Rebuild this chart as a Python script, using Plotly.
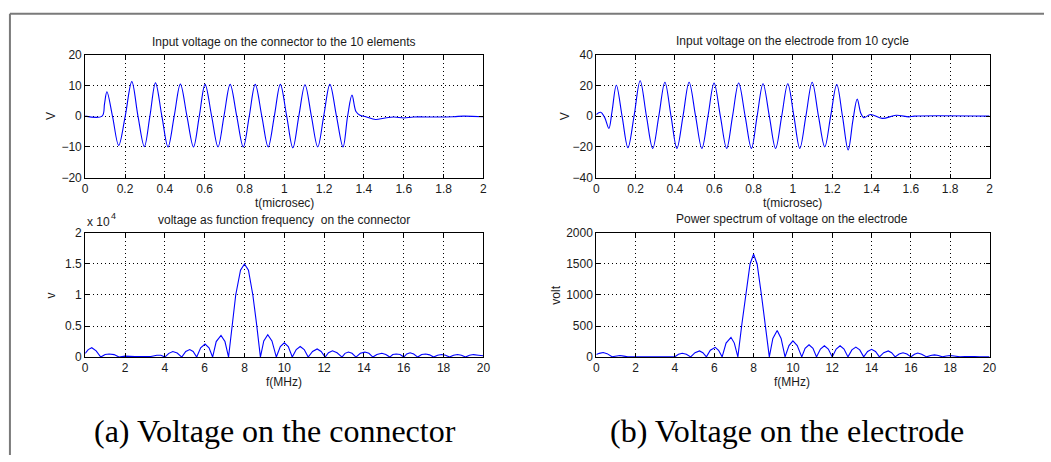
import plotly.graph_objects as go

# ---------------- data ----------------
# (a) time signal on the connector
conn_t = [0, 0.085, 0.097, 0.109, 0.137, 0.168, 0.201, 0.234, 0.265, 0.297, 0.325, 0.353,
          0.385, 0.416, 0.447, 0.478, 0.511, 0.544, 0.573, 0.602, 0.635, 0.667, 0.697, 0.728,
          0.761, 0.794, 0.824, 0.854, 0.887, 0.919, 0.95, 0.980, 1.012, 1.043, 1.073, 1.104,
          1.136, 1.168, 1.198, 1.229, 1.262, 1.295, 1.318, 1.34, 1.36, 1.38, 1.41, 1.458,
          1.5, 1.55, 1.6, 1.65, 1.75, 1.85, 1.9, 2.0]
conn_v = [0, 0, 4, 7.9, 0, -9.5, 0, 11.2, 0, -9.9, 0, 10.8,
          0, -10, 0, 10.4, 0, -10, 0, 10.3, 0, -10, 0, 10.3,
          0, -10, 0, 10.3, 0, -10, 0, 10.3, 0, -10.3, 0, 10.2,
          0, -10, 0, 10.3, 0, -10, 0, 6.8, 1.5, 0.3, -0.2, -1.1,
          -0.7, -0.3, -0.6, -0.3, -0.3, -0.2, 0, -0.2]

# (b) time signal on the electrode
elec_t = [0, 0.022, 0.043, 0.064, 0.08, 0.102, 0.131, 0.161, 0.192, 0.223, 0.255, 0.287,
          0.318, 0.349, 0.38, 0.41, 0.441, 0.472, 0.505, 0.537, 0.568, 0.599, 0.631, 0.663,
          0.693, 0.724, 0.757, 0.789, 0.818, 0.848, 0.88, 0.912, 0.943, 0.974, 1.005, 1.035,
          1.066, 1.098, 1.13, 1.162, 1.192, 1.223, 1.252, 1.281, 1.305, 1.327, 1.345, 1.36,
          1.395, 1.454, 1.525, 1.59, 1.617, 2.0]
elec_v = [1, 2.5, -1, -8, 3, 20, 0, -20.5, 0, 23, 0, -21,
          0, 22, 0, -21, 0, 22, 0, -21, 0, 21.5, 0, -21,
          0, 21.5, 0, -21, 0, 21, 0, -21, 0, 21, 0, -21,
          0, 22, 0, -20, 0, 20.5, 0, -22, -3, 11, 2, -1,
          1, -1.5, 0.5, -0.5, 0, 0]

# (a) spectrum on the connector (units of 1e4)
conn_f = [0, 0.15, 0.33, 0.55, 0.78, 1.0, 1.2, 1.45, 1.7, 2.0, 2.5, 2.9, 3.3, 3.6, 3.8, 4.0,
          4.2, 4.4, 4.62, 4.85, 5.05, 5.25, 5.42, 5.6, 5.8, 6.02, 6.22, 6.4, 6.58, 6.82, 7.02,
          7.2, 7.4, 7.56, 7.8, 8.0, 8.2, 8.42, 8.6, 8.8, 8.97, 9.17, 9.38, 9.6, 9.8, 10.0,
          10.2, 10.4, 10.6, 10.8, 11.0, 11.2, 11.42, 11.65, 11.85, 12.05, 12.22, 12.42, 12.65,
          12.9, 13.05, 13.22, 13.4, 13.6, 13.82, 14.05, 14.25, 14.45, 14.65, 14.9, 15.1, 15.3,
          15.45, 15.62, 15.82, 16.0, 16.15, 16.32, 16.5, 16.7, 16.9, 17.1, 17.3, 17.5, 17.7,
          17.9, 18.1, 18.3, 18.5, 18.7, 18.9, 19.1, 19.3, 19.5, 19.75, 20.0]
conn_s = [0.06, 0.12, 0.15, 0.10, 0, 0.04, 0.05, 0.04, 0, 0.015, 0.01, 0.015, 0.01, 0.03, 0.03, 0,
          0.06, 0.09, 0.065, 0, 0.09, 0.12, 0.09, 0, 0.15, 0.21, 0.15, 0, 0.25, 0.35, 0.25,
          0, 0.55, 1.0, 1.40, 1.50, 1.40, 1.0, 0.55, 0, 0.26, 0.36, 0.26, 0, 0.17, 0.23,
          0.17, 0, 0.12, 0.17, 0.12, 0, 0.09, 0.13, 0.09, 0, 0.07, 0.10, 0.07,
          0, 0.06, 0.08, 0.06, 0, 0.06, 0.08, 0.06, 0, 0.04, 0.06, 0.04, 0,
          0.04, 0.05, 0.04, 0, 0.05, 0.07, 0.05, 0, 0.04, 0.05, 0.035, 0, 0.03,
          0.04, 0.03, 0, 0.03, 0.04, 0.03, 0, 0.03, 0.04, 0.03, 0.02]

# (b) power spectrum on the electrode
elec_f = [0, 0.15, 0.35, 0.55, 0.8, 1.0, 1.2, 1.4, 1.6, 2.0, 3.0, 3.5, 4.0,
          4.18, 4.37, 4.58, 4.8, 5.02, 5.25, 5.42, 5.6, 5.8, 6.05, 6.22, 6.4, 6.6, 6.85, 7.02,
          7.2, 7.4, 7.6, 7.82, 8.0, 8.18, 8.4, 8.6, 8.8, 8.98, 9.2, 9.4, 9.6, 9.8, 10.0,
          10.22, 10.45, 10.62, 10.82, 11.02, 11.2, 11.4, 11.6, 11.8, 12.0, 12.2, 12.4, 12.6,
          12.8, 13.0, 13.2, 13.4, 13.6, 13.8, 14.0, 14.2, 14.4, 14.62, 14.85, 15.02, 15.2,
          15.4, 15.6, 15.8, 16.0, 16.18, 16.35, 16.55, 16.8, 17.0, 17.2, 17.4, 17.6, 17.8,
          18.0, 18.2, 18.5, 18.75, 19.0, 19.25, 19.5, 20.0]
elec_s = [40, 60, 73, 55, 5, 20, 25, 15, 3, 5, 5, 8, 5,
          45, 62, 45, 3, 70, 99, 70, 3, 110, 156, 110, 3, 225, 318, 225,
          3, 520, 1000, 1500, 1656, 1500, 1000, 520, 3, 300, 427, 300, 3, 185, 260,
          185, 3, 140, 198, 140, 3, 130, 182, 130, 3, 130, 182, 130,
          3, 115, 161, 115, 3, 90, 125, 90, 3, 70, 99, 70, 3,
          50, 70, 50, 3, 46, 65, 46, 3, 25, 35, 25, 3, 18,
          25, 18, 3, 10, 15, 10, 3, 5]

# axis ticks / labels
time_ticks = [0, 0.2, 0.4, 0.6, 0.8, 1, 1.2, 1.4, 1.6, 1.8, 2]
freq_ticks = [0, 2, 4, 6, 8, 10, 12, 14, 16, 18, 20]
conn_vticks = [-20, -10, 0, 10, 20]
elec_vticks = [-40, -20, 0, 20, 40]
conn_sticks = [0, 0.5, 1, 1.5, 2]
conn_sticklabels = ["0", "0.5", "1", "1.5", "2"]
elec_sticks = [0, 500, 1000, 1500, 2000]

titles = ["Input voltage on the connector to the 10 elements",
          "Input voltage on the electrode from 10 cycle",
          "voltage as function frequency  on the connector",
          "Power spectrum of voltage on the electrode"]
captions = ["(a) Voltage on the connector", "(b) Voltage on the electrode"]

# ---------------- layout helpers ----------------
W, H = 1051, 462
def px(x):
    return x / W
def py(y):
    return 1 - y / H

BLUE = "#0000ff"
TICKFONT = dict(family="Liberation Sans, Arial, sans-serif", size=12, color="#1a1a1a")
LBLFONT = dict(family="Liberation Sans, Arial, sans-serif", size=12, color="#1a1a1a")

def axis(domain, rng, tickvals, ticktext=None):
    d = dict(domain=domain, range=rng, tickmode="array", tickvals=tickvals,
             showline=True, linecolor="#000000", linewidth=1, mirror="ticks",
             ticks="inside", ticklen=4, tickcolor="#000000",
             showgrid=True, gridcolor="#000000", gridwidth=1, griddash="1px,3px",
             zeroline=False, tickfont=TICKFONT, fixedrange=True)
    if ticktext is not None:
        d["ticktext"] = ticktext
    return d

fig = go.Figure()
fig.add_trace(go.Scatter(x=conn_t, y=conn_v, mode="lines", line=dict(color=BLUE, width=1.1, shape="spline", smoothing=1.0),
                         xaxis="x", yaxis="y", showlegend=False))
fig.add_trace(go.Scatter(x=elec_t, y=elec_v, mode="lines", line=dict(color=BLUE, width=1.1, shape="spline", smoothing=1.0),
                         xaxis="x2", yaxis="y2", showlegend=False))
fig.add_trace(go.Scatter(x=conn_f, y=conn_s, mode="lines", line=dict(color=BLUE, width=1.1),
                         xaxis="x3", yaxis="y3", showlegend=False))
fig.add_trace(go.Scatter(x=elec_f, y=elec_s, mode="lines", line=dict(color=BLUE, width=1.1),
                         xaxis="x4", yaxis="y4", showlegend=False))

L_dom = [px(83), px(485)]
R_dom = [px(599), px(996)]
T_dom = [py(176), py(49)]
B_dom = [py(361), py(233)]

fig.update_layout(
    width=W, height=H, autosize=False,
    margin=dict(l=0, r=0, t=0, b=0),
    paper_bgcolor="white", plot_bgcolor="white",
    xaxis=dict(axis(L_dom, [0, 2], time_ticks), anchor="y"),
    yaxis=dict(axis(T_dom, [-20, 20], conn_vticks), anchor="x"),
    xaxis2=dict(axis(R_dom, [0, 2], time_ticks), anchor="y2"),
    yaxis2=dict(axis(T_dom, [-40, 40], elec_vticks), anchor="x2"),
    xaxis3=dict(axis(L_dom, [0, 20], freq_ticks), anchor="y3"),
    yaxis3=dict(axis(B_dom, [0, 2], conn_sticks, conn_sticklabels), anchor="x3"),
    xaxis4=dict(axis(R_dom, [0, 20], freq_ticks), anchor="y4"),
    yaxis4=dict(axis(B_dom, [0, 2000], elec_sticks), anchor="x4"),
)

ann = []
def text(x, y, s, font=LBLFONT, angle=0, xanchor="center"):
    ann.append(dict(x=px(x), y=py(y), xref="paper", yref="paper", text=s, showarrow=False,
                    font=font, textangle=angle, xanchor=xanchor, yanchor="middle"))

# subplot titles
text(284, 36, titles[0])
text(797, 35, titles[1])
text(284, 220, titles[2])
text(797, 219, titles[3])
# x labels
text(284, 202, "t(microsec)")
text(797, 202, "t(microsec)")
text(284, 387, "f(MHz)")
text(797, 387, "f(MHz)")
# y labels
text(48, 113, "V", angle=-90)
text(567, 113, "V", angle=-90)
text(48, 298, "v", angle=-90)
text(558, 297, "volt", angle=-90)
# exponent "x 10^4"
text(83, 222, "x 10", xanchor="left")
text(107, 216, "4", font=dict(LBLFONT, size=9), xanchor="left")
# captions
capfont = dict(family="Liberation Serif, DejaVu Serif, serif", size=32, color="#000000")
text(275, 437, captions[0], font=capfont)
text(792, 437, captions[1], font=capfont)
fig.update_layout(annotations=ann)

# figure frame (top and left edges)
fig.add_shape(type="line", xref="paper", yref="paper", x0=px(7), y0=py(7), x1=1, y1=py(7),
              line=dict(color="#7a7a7a", width=2))
fig.add_shape(type="line", xref="paper", yref="paper", x0=px(7), y0=py(7), x1=px(7), y1=0,
              line=dict(color="#7a7a7a", width=2))

fig.write_html("out.html")
